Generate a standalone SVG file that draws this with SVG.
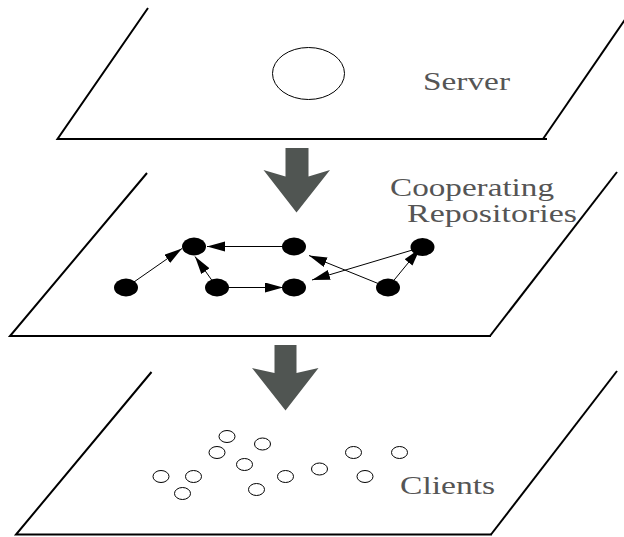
<svg xmlns="http://www.w3.org/2000/svg" width="624" height="537" viewBox="0 0 624 537">
<style>
.plane{fill:none;stroke:#000;stroke-width:2;stroke-linecap:butt}
.big{fill:#505552;stroke:none}
.lbl{font-family:"Liberation Serif","Times New Roman",serif;font-size:24.5px;fill:#555555}
.srv{fill:#fff;stroke:#000;stroke-width:1}
.rep{fill:#000;stroke:none}
.cli{fill:#fff;stroke:#000;stroke-width:1}
.edge{stroke:#000;stroke-width:1;fill:none;marker-end:url(#ah)}
</style>
<defs>
<marker id="ah" markerUnits="userSpaceOnUse" markerWidth="19" markerHeight="11" refX="18" refY="5" orient="auto">
<path d="M0,0 L18,5 L0,10 Z" fill="#000"/>
</marker>
</defs>
<rect width="624" height="537" fill="#fff"/>

<g id="plane-server">
<polyline class="plane" points="148,8 57.5,139 547,139"/>
<line class="plane" x1="543" y1="139" x2="633" y2="8"/>
<ellipse id="server" class="srv" cx="308.5" cy="73.5" rx="36" ry="26"/>
<text class="lbl" transform="matrix(1.36,0,0,1,423,90)" x="0" y="0" textLength="64" lengthAdjust="spacingAndGlyphs">Server</text>
</g>

<g id="arrow-1">
<polygon class="big" points="285.5,148 308.5,148 308.5,176.5 330,170 296.5,212.5 263.5,170 285.5,176.5"/>
</g>

<g id="plane-repositories">
<polyline class="plane" points="147,173 10,336 491,336"/>
<line class="plane" x1="490" y1="336" x2="617" y2="172"/>
<text class="lbl" transform="matrix(1.36,0,0,1,390,196)" x="0" y="0" textLength="120.6" lengthAdjust="spacingAndGlyphs">Cooperating</text>
<text class="lbl" transform="matrix(1.36,0,0,1,407,221.5)" x="0" y="0" textLength="125" lengthAdjust="spacingAndGlyphs">Repositories</text>
</g>

<g id="repo-1"><ellipse class="rep" cx="126" cy="287.5" rx="12" ry="9"/></g>
<g id="repo-2"><ellipse class="rep" cx="194" cy="246.5" rx="12" ry="9"/></g>
<g id="repo-3"><ellipse class="rep" cx="217" cy="287.5" rx="12" ry="9"/></g>
<g id="repo-4"><ellipse class="rep" cx="294" cy="246.5" rx="12" ry="9"/></g>
<g id="repo-5"><ellipse class="rep" cx="294" cy="287.5" rx="12" ry="9"/></g>
<g id="repo-6"><ellipse class="rep" cx="388" cy="287.5" rx="12" ry="9"/></g>
<g id="repo-7"><ellipse class="rep" cx="422.5" cy="247" rx="12" ry="9"/></g>

<g id="connectors">
<line class="edge" x1="126" y1="287.5" x2="182" y2="248.5"/>
<line class="edge" x1="217" y1="287.5" x2="195" y2="256.5"/>
<line class="edge" x1="294" y1="246.5" x2="207" y2="246.5"/>
<line class="edge" x1="217" y1="287.5" x2="283" y2="287.5"/>
<line class="edge" x1="388" y1="287.5" x2="309" y2="255.5"/>
<line class="edge" x1="422.5" y1="247" x2="312" y2="280"/>
<line class="edge" x1="388" y1="287.5" x2="420" y2="248.5"/>
</g>

<g id="arrow-2">
<polygon class="big" points="274.5,345 296.5,345 296.5,373 318.5,368 285.5,410.5 252,368 274.5,373"/>
</g>

<g id="plane-clients">
<polyline class="plane" points="151.5,372 16,534.5 492,534.5"/>
<line class="plane" x1="491" y1="534.5" x2="617" y2="371"/>
<text class="lbl" transform="matrix(1.36,0,0,1,400,494)" x="0" y="0" textLength="70" lengthAdjust="spacingAndGlyphs">Clients</text>
</g>

<g id="clients">
<ellipse class="cli" cx="227" cy="436.5" rx="8" ry="6"/>
<ellipse class="cli" cx="262.5" cy="444" rx="8" ry="6"/>
<ellipse class="cli" cx="217" cy="452.5" rx="8" ry="6"/>
<ellipse class="cli" cx="244.5" cy="464.5" rx="8" ry="6"/>
<ellipse class="cli" cx="161" cy="476.5" rx="8" ry="6"/>
<ellipse class="cli" cx="193.5" cy="476.5" rx="8" ry="6"/>
<ellipse class="cli" cx="182.5" cy="493.5" rx="8" ry="6"/>
<ellipse class="cli" cx="256.5" cy="489.5" rx="8" ry="6"/>
<ellipse class="cli" cx="285.5" cy="476.5" rx="8" ry="6"/>
<ellipse class="cli" cx="319.5" cy="469" rx="8" ry="6"/>
<ellipse class="cli" cx="353.5" cy="452.5" rx="8" ry="6"/>
<ellipse class="cli" cx="399.5" cy="452.5" rx="8" ry="6"/>
<ellipse class="cli" cx="365" cy="476.5" rx="8" ry="6"/>
</g>
</svg>
